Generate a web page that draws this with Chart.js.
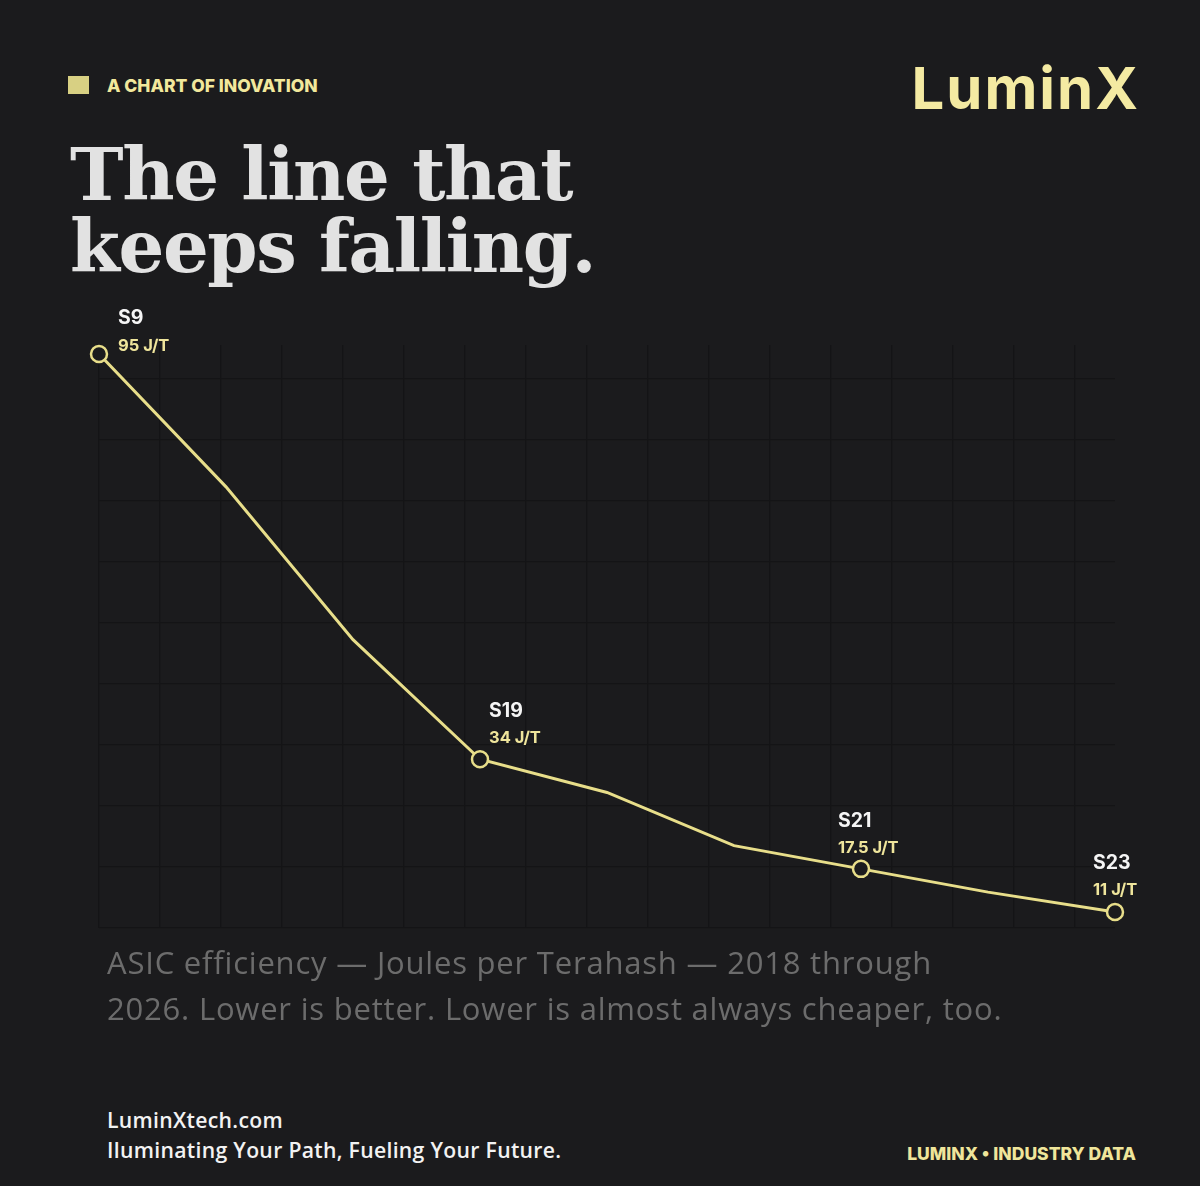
<!DOCTYPE html>
<html>
<head>
<meta charset="utf-8">
<script src="https://cdn.jsdelivr.net/npm/chart.js@4.4.1/dist/chart.umd.min.js"></script>
<style>
  html, body { margin: 0; padding: 0; }
  body { width: 1200px; height: 1186px; background: #1b1b1d; position: relative; overflow: hidden; font-family: Inter, sans-serif; }
  .kicker { position: absolute; left: 68px; top: 75px; height: 20px; display: flex; align-items: center; }
  .kicker .sq { width: 21px; height: 18px; background: #d8d083; margin-right: 18px; }
  .kicker span { color: #f2e89c; font: 800 17.5px Inter, sans-serif; }
  .logo { position: absolute; right: 60px; top: 53px; color: #f4eaa2; font: 700 58px Inter, sans-serif; letter-spacing: 2px; }
  .title { position: absolute; left: 70px; top: 139px; color: #e2e2e2; font: bold 72px "DejaVu Serif", serif; line-height: 72px; letter-spacing: -1.4px; }
  .chart-wrap { position: absolute; left: 0; top: 300px; width: 1200px; height: 660px; }
  .caption { position: absolute; left: 107px; top: 939px; color: #6c6c6c; font: 400 31px "Open Sans", sans-serif; line-height: 46px; letter-spacing: 0.8px; }
  .footer-left { position: absolute; left: 107px; top: 1105px; color: #f2f2f2; font: 600 21.2px "Open Sans", sans-serif; line-height: 30px; letter-spacing: 0.3px; }
  .footer-right { position: absolute; right: 64px; top: 1143px; color: #efe59a; font: 800 17.5px Inter, sans-serif; }
</style>
</head>
<body>
<div class="kicker"><div class="sq"></div><span>A CHART OF INOVATION</span></div>
<div class="logo">LuminX</div>
<div class="title">The line that<br>keeps falling.</div>
<div class="chart-wrap"><canvas id="chart"></canvas></div>
<div class="caption">ASIC efficiency — Joules per Terahash — 2018 through<br>2026. Lower is better. Lower is almost always cheaper, too.</div>
<div class="footer-left">LuminXtech.com<br>Iluminating Your Path, Fueling Your Future.</div>
<div class="footer-right">LUMINX • INDUSTRY DATA</div>

<script>
'use strict'

const years = [2018, 2019, 2020, 2021, 2022, 2023, 2024, 2025, 2026]
const efficiency = [95, 75, 52, 34, 29, 21, 17.5, 14, 11]
const models = ['S9', '', '', 'S19', '', '', 'S21', '', 'S23']

const lineColor = '#e8de8a'
const bgColor = '#1b1b1d'

// where each model label sits relative to its point: [dx, name dy, value dy]
const labelOffsets = { 0: [19, -36, -8], 3: [9, -48, -21], 6: [-23, -48, -21], 8: [-22, -49, -22] }

const pointLabels = {
  id: 'pointLabels',
  afterDatasetsDraw(chart) {
    const ctx = chart.ctx
    const meta = chart.getDatasetMeta(0)
    ctx.save()
    ctx.textAlign = 'left'
    ctx.textBaseline = 'middle'
    meta.data.forEach((pt, i) => {
      if (!models[i]) return
      const off = labelOffsets[i]
      ctx.fillStyle = '#f5f5f5'
      ctx.font = '700 19.5px Inter, sans-serif'
      ctx.fillText(models[i], pt.x + off[0], pt.y + off[1])
      ctx.fillStyle = '#efe59c'
      ctx.font = '700 16.5px Inter, sans-serif'
      ctx.fillText(efficiency[i] + ' J/T', pt.x + off[0], pt.y + off[2])
    })
    ctx.restore()
  },
}

const data = {
  datasets: [
    {
      data: years.map((y, i) => ({ x: y, y: efficiency[i] })),
      xAxisID: 'x',
      yAxisID: 'y',
      borderColor: lineColor,
      borderWidth: 3,
      tension: 0,
      clip: false,
      pointRadius: (c) => (models[c.dataIndex] ? 8 : 0),
      pointHoverRadius: 0,
      pointBorderWidth: 2.5,
      pointBorderColor: lineColor,
      pointBackgroundColor: bgColor,
    },
  ],
}

const gridStyle = { color: '#141416', lineWidth: 1.3, drawTicks: false }

const config = {
  type: 'line',
  data: data,
  plugins: [pointLabels],
  options: {
    responsive: true,
    maintainAspectRatio: false,
    animation: false,
    layout: { padding: { left: 99, right: 85, top: 45, bottom: 32 } },
    plugins: { legend: { display: false }, tooltip: { enabled: false } },
    scales: {
      x: { type: 'linear', min: 2018, max: 2026, display: false },
      y: { type: 'linear', min: 8.6, max: 96.35, display: false },
      gx: {
        type: 'linear', position: 'bottom', min: 0, max: 1016 / 61,
        ticks: { display: false, stepSize: 1, includeBounds: false },
        grid: gridStyle, border: { display: false },
      },
      gy: {
        type: 'linear', position: 'left', min: 0, max: 583 / 61,
        ticks: { display: false, stepSize: 1, includeBounds: false },
        grid: gridStyle, border: { display: false },
      },
    },
  },
}

const myChart = new Chart(document.getElementById('chart'), config)
</script>
</body>
</html>
